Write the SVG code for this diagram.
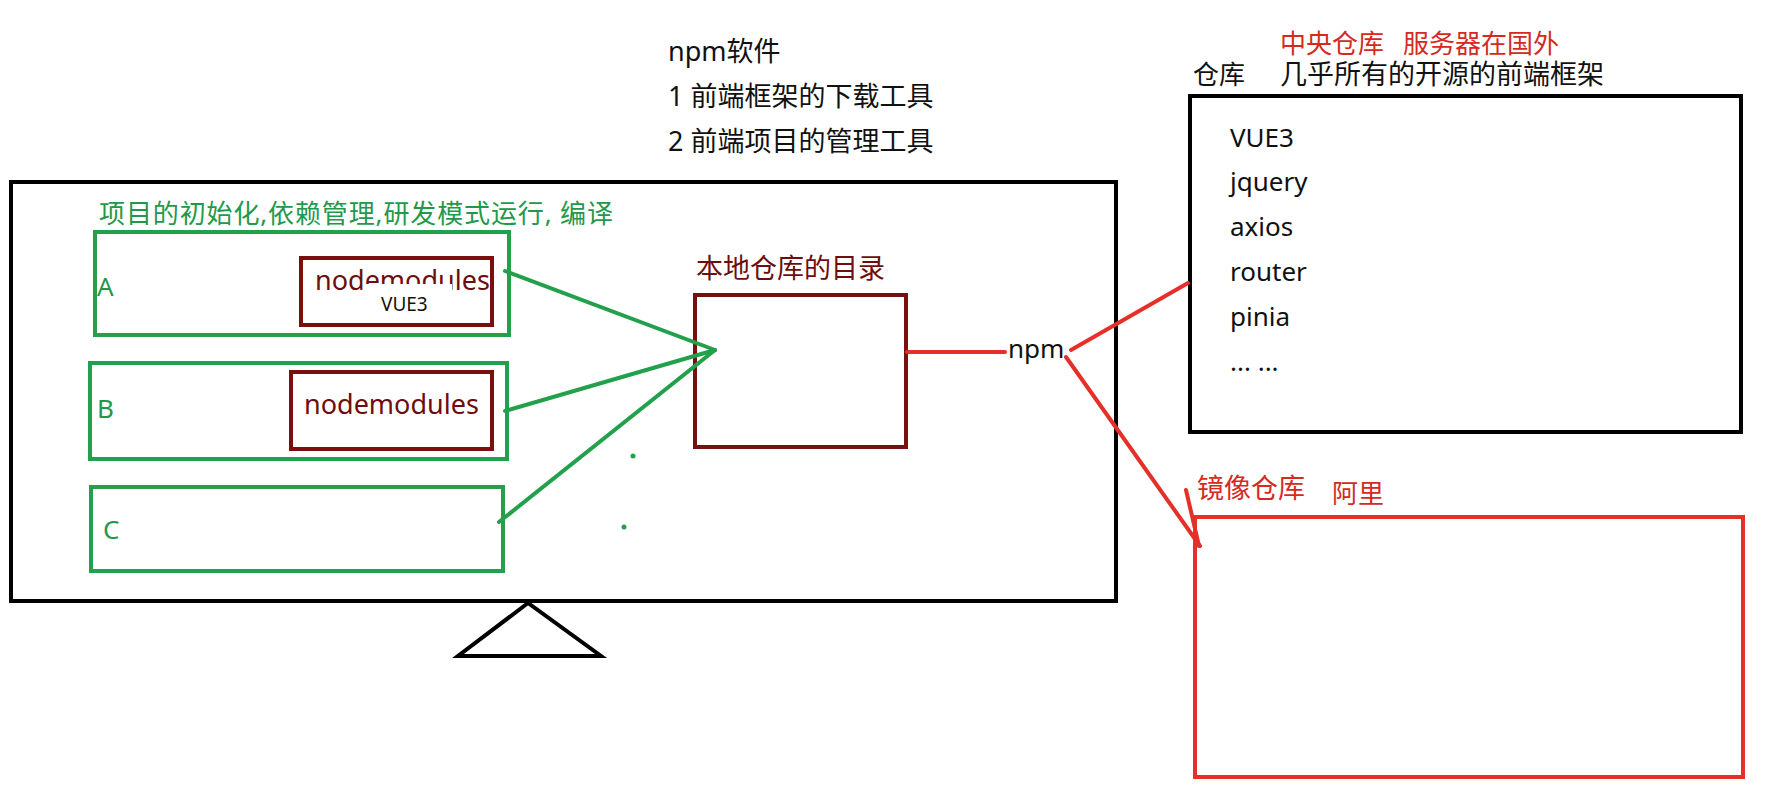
<svg xmlns="http://www.w3.org/2000/svg" width="1765" height="791" viewBox="0 0 1765 791">
<style>
.t{font-family:"Noto Sans","Noto Sans CJK SC",sans-serif;}
.blk{fill:#111;}
.grn{fill:#22994a;}
.drd{fill:#6e0d0d;}
.red{fill:#d42a22;}
.bbox{fill:none;stroke:#000;stroke-width:4;}
.gbox{fill:none;stroke:#22a04b;stroke-width:4;}
.dbox{fill:none;stroke:#7a0f10;stroke-width:4;}
.rbox{fill:none;stroke:#e5302a;stroke-width:4;}
.gl{stroke:#22a04b;stroke-width:4;stroke-linecap:round;fill:none;}
.rl{stroke:#e5302a;stroke-width:4;stroke-linecap:round;fill:none;}
</style>
<rect width="1765" height="791" fill="#fff"/>
<g id="notes">
<text class="t blk" x="668" y="61" font-size="27">npm软件</text>
<text class="t blk" x="668" y="106" font-size="27">1 前端框架的下载工具</text>
<text class="t blk" x="668" y="151" font-size="27">2 前端项目的管理工具</text>
</g>
<g id="computer">
<rect class="bbox" x="11" y="182" width="1105" height="419"/>
<polygon class="bbox" points="528,603 458,656 601,656"/>
<text class="t grn" x="99" y="223" font-size="26" textLength="514">项目的初始化,依赖管理,研发模式运行, 编译</text>
<circle cx="633" cy="456" r="2.5" fill="#22a04b"/>
<circle cx="624" cy="527" r="2.5" fill="#22a04b"/>
</g>
<g id="projectA">
<rect class="gbox" x="95" y="232" width="414" height="103"/>
<text class="t grn" x="97" y="296" font-size="26">A</text>
<rect class="dbox" x="301" y="258" width="191" height="67"/>
<text class="t drd" x="315" y="290" font-size="27">nodemodules</text>
<rect x="366" y="284" width="86" height="38" fill="#fff"/>
<text class="t blk" x="381" y="311" font-size="19">VUE3</text>
</g>
<g id="projectB">
<rect class="gbox" x="90" y="363" width="417" height="96"/>
<text class="t grn" x="97" y="418" font-size="26">B</text>
<rect class="dbox" x="291" y="372" width="201" height="77"/>
<text class="t drd" x="304" y="414" font-size="27">nodemodules</text>
</g>
<g id="projectC">
<rect class="gbox" x="91" y="487" width="412" height="84"/>
<text class="t grn" x="103" y="539" font-size="26">C</text>
</g>
<g id="localRepo">
<text class="t drd" x="696" y="278" font-size="27">本地仓库的目录</text>
<rect class="dbox" x="695" y="295" width="211" height="152"/>
</g>
<g id="npm">
<text class="t blk" x="1008" y="358" font-size="26">npm</text>
</g>
<g id="centralRepo">
<text class="t red" x="1280" y="53" font-size="26">中央仓库</text>
<text class="t red" x="1403" y="53" font-size="26">服务器在国外</text>
<text class="t blk" x="1193" y="84" font-size="26">仓库</text>
<text class="t blk" x="1280" y="84" font-size="27">几乎所有的开源的前端框架</text>
<rect class="bbox" x="1190" y="96" width="551" height="336"/>
<text class="t blk" x="1230" y="147" font-size="26">VUE3</text>
<text class="t blk" x="1230" y="191" font-size="26">jquery</text>
<text class="t blk" x="1230" y="236" font-size="26">axios</text>
<text class="t blk" x="1230" y="281" font-size="26">router</text>
<text class="t blk" x="1230" y="326" font-size="26">pinia</text>
<text class="t blk" x="1230" y="371" font-size="26">... ...</text>
</g>
<g id="mirrorRepo">
<text class="t red" x="1197" y="498" font-size="27">镜像仓库</text>
<text class="t red" x="1332" y="503" font-size="26">阿里</text>
<rect class="rbox" x="1195" y="517" width="548" height="260"/>
</g>
<g id="connectors">
<line class="gl" x1="505" y1="271" x2="715" y2="350"/>
<line class="gl" x1="505" y1="411" x2="715" y2="350"/>
<line class="gl" x1="499" y1="522" x2="715" y2="350"/>
<line class="rl" x1="907" y1="352" x2="1005" y2="352"/>
<line class="rl" x1="1071" y1="350" x2="1188" y2="283"/>
<line class="rl" x1="1066" y1="357" x2="1200" y2="546"/>
<line class="rl" x1="1186" y1="490" x2="1199" y2="546"/>
</g>
</svg>
